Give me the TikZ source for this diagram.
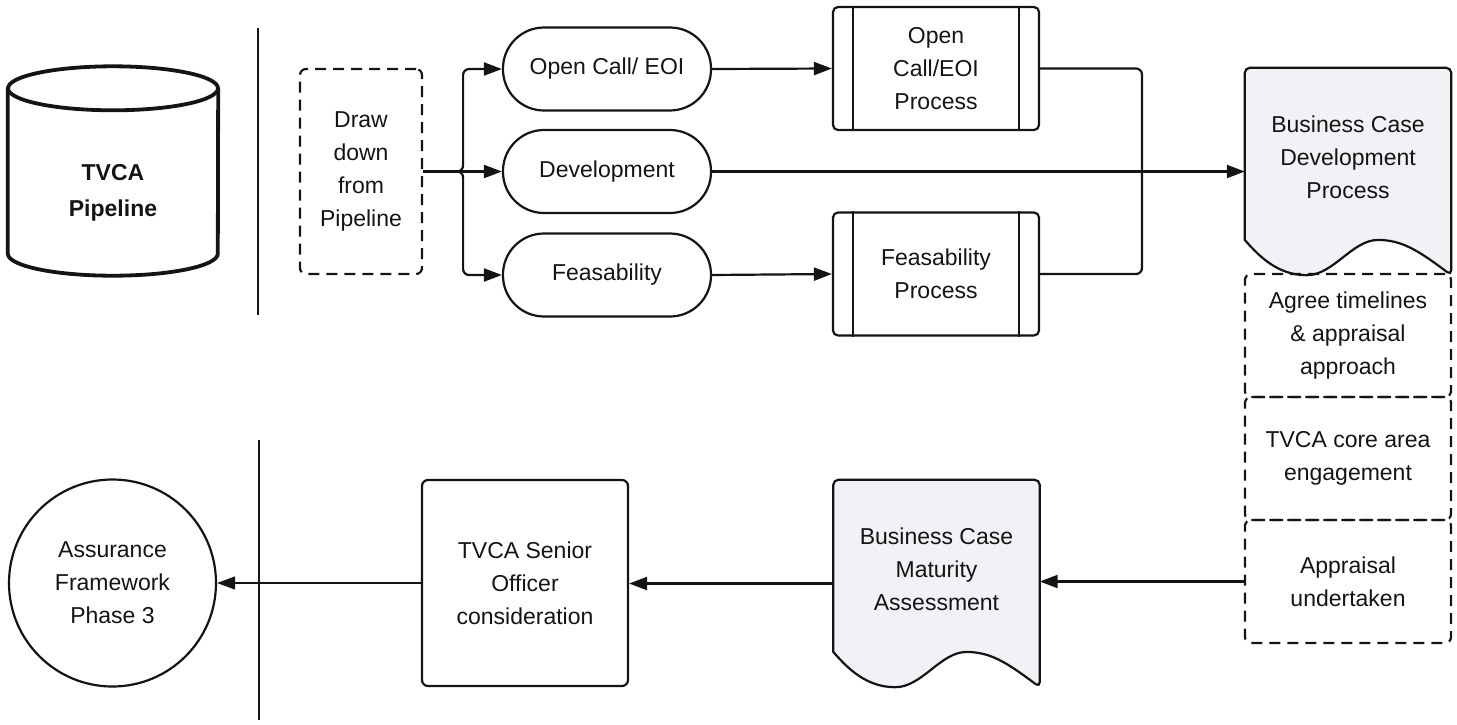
\documentclass[tikz,border=0pt]{standalone}
\usepackage{fontspec}
\setmainfont{Liberation Sans}
\usetikzlibrary{arrows.meta, positioning, calc}

\definecolor{inkblack}{HTML}{141414}
\definecolor{docfill}{HTML}{F1F2F5}

% document shape with a wavy bottom, drawn round an (empty) node
\newcommand{\docshape}[1]{%
  \path[doc] let \p1=(#1.north west), \p2=(#1.south east),
      \n1={\x2-\x1}, \n2={\y1-\y2} in
    (\x1,{\y2+0.17*\n2}) [rounded corners=5pt] -- (\x1,\y1) -- (\x2,\y1)
    -- (\x2,\y2) [sharp corners]
    .. controls ({\x2-0.16*\n1},{\y2+0.12*\n2}) and ({\x1+0.76*\n1},{\y2+0.17*\n2})
    .. ({\x1+0.645*\n1},{\y2+0.17*\n2})
    .. controls ({\x1+0.52*\n1},{\y2+0.17*\n2}) and ({\x1+0.43*\n1},\y2)
    .. ({\x1+0.30*\n1},\y2)
    .. controls ({\x1+0.16*\n1},\y2) and ({\x1+0.07*\n1},{\y2+0.09*\n2})
    .. (\x1,{\y2+0.17*\n2}) -- cycle;%
}

\begin{document}
\begin{tikzpicture}[x=1pt, y=-1pt,
    every node/.style={font=\fontsize{23}{33}\selectfont, text=inkblack,
                       align=center, inner sep=2pt},
    shape line/.style={draw=inkblack, line width=2.2pt},
    dashbox/.style={shape line, dash pattern=on 11pt off 7pt,
                    rounded corners=6pt, minimum width=206pt},
    pill/.style={shape line, rounded corners=41pt, minimum width=208pt,
                 minimum height=83pt},
    procbox/.style={shape line, rounded corners=5pt, minimum width=206pt,
                    minimum height=123pt},
    docnode/.style={minimum width=206pt, minimum height=207pt, inner sep=0pt},
    doc/.style={shape line, fill=docfill},
    flow/.style={draw=inkblack, line width=2.2pt, ->},
    >={Triangle[length=18pt, width=13pt]}
  ]
  \useasboundingbox (0,0) rectangle (1457,724);

  % pipeline store
  \node[minimum width=210pt, minimum height=165pt,
        font=\fontsize{23}{36}\selectfont\bfseries] (pipe) at (113,193)
    {TVCA\\Pipeline};
  \draw[draw=inkblack, line width=3.8pt] ([yshift=22pt]pipe.north)
    ellipse [x radius=105pt, y radius=22pt];
  \draw[draw=inkblack, line width=3.8pt] ([yshift=22pt]pipe.north west)
    -- ([yshift=22pt]pipe.south west)
    arc[start angle=180, end angle=360, x radius=105pt, y radius=22pt]
    -- ([yshift=22pt]pipe.north east);

  % separators
  \draw[shape line] (258,28) -- (258,315);
  \draw[shape line] (259,440) -- (259,720);

  \node[dashbox, minimum width=122pt, minimum height=205pt] (dd)
    at (361,171.5) {Draw\\down\\from\\Pipeline};

  \node[pill] (open) at (607,69) {Open Call/ EOI};
  \node[pill] (dev) at (607,171.5) {Development};
  \node[pill] (feas) at (607,275) {Feasability};

  \node[procbox] (ocp) at (936,68.5) {Open\\Call/EOI\\Process};
  \node[procbox] (fp) at (936,274) {Feasability\\Process};
  \foreach \p in {ocp, fp} {
    \draw[shape line] ([xshift=21pt]\p.north west) -- ([xshift=21pt]\p.south west);
    \draw[shape line] ([xshift=-21pt]\p.north east) -- ([xshift=-21pt]\p.south east);
  }

  \node[docnode] (bcd) at (1348,171.5) {};
  \node[docnode] (bcm) at (936.5,583.5) {};
  \docshape{bcd}
  \docshape{bcm}
  \node (bcdtext) at ([yshift=14pt]bcd.center) {Business Case\\Development\\Process};
  \node (bcmtext) at ([yshift=14pt]bcm.center) {Business Case\\Maturity\\Assessment};

  \node[dashbox, minimum height=123pt] (agree) at (1348,335.5)
    {Agree timelines\\\& appraisal\\approach};
  \node[dashbox, minimum height=123pt] (core) at (1348,458.5)
    {TVCA core area\\engagement};
  \node[dashbox, minimum height=123pt] (appr) at (1348,581.5)
    {Appraisal\\undertaken};

  \node[shape line, rounded corners=6pt, minimum width=206pt,
        minimum height=206pt] (senior) at (525,583)
    {TVCA Senior\\Officer\\consideration};
  \node[shape line, circle, minimum size=207pt, inner sep=0pt] (af)
    at (112.5,583) {Assurance\\Framework\\Phase 3};

  % connectors
  \coordinate (merge) at (1142,171.5);
  \draw[flow, rounded corners=6pt] (dd.east) -- ++(40,0) |- (open.west);
  \draw[flow, rounded corners=6pt] (dd.east) -- ++(40,0) |- (feas.west);
  \draw[flow] (dd.east) -- (dev.west);
  \draw[flow] (open.east) -- (ocp.west);
  \draw[flow] (feas.east) -- (fp.west);
  \draw[flow] (dev.east) -- (bcd.west);
  \draw[shape line, rounded corners=6pt] (ocp.east) -| (merge);
  \draw[shape line, rounded corners=6pt] (fp.east) -| (merge);
  \draw[flow] (appr.west) -- (appr.west -| bcm.east);
  \draw[flow] (bcm.west) -- (bcm.west -| senior.east);
  \draw[flow, line width=1.2pt] (senior.west) -- (af.east);
\end{tikzpicture}
\end{document}
